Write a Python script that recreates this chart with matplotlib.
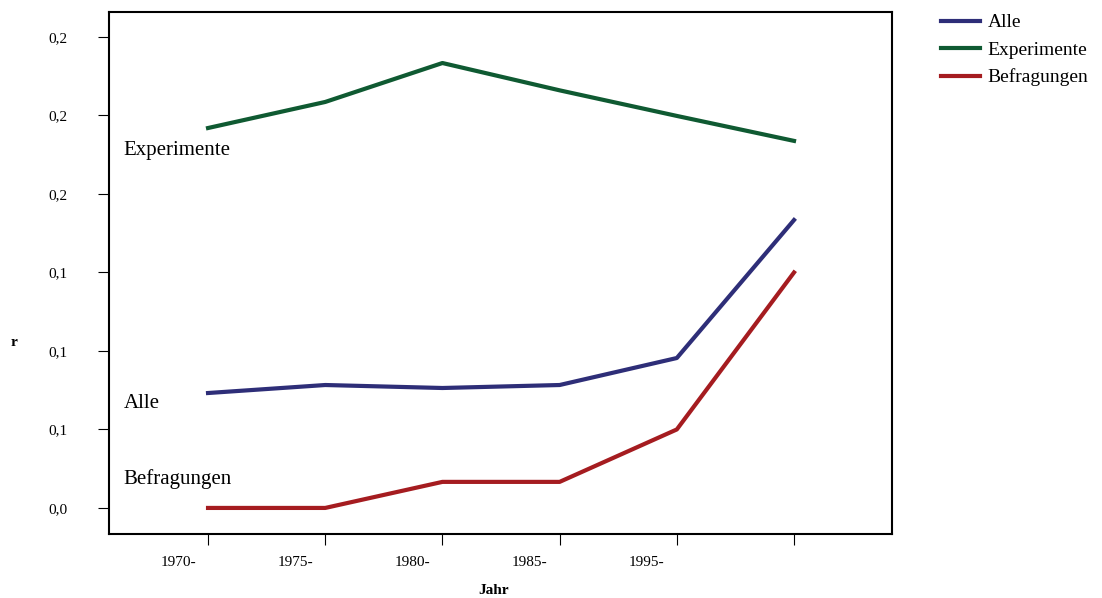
import matplotlib
matplotlib.use("Agg")
import matplotlib.pyplot as plt
from matplotlib.transforms import ScaledTranslation

plt.rcParams['font.family'] = ['Liberation Serif', 'DejaVu Serif']

jahre = ['1970-', '1975-', '1980-', '1985-', '1995-', '']
alle = [0.0732, 0.0783, 0.0764, 0.0783, 0.0955, 0.1834]
experimente = [0.242, 0.2586, 0.2834, 0.266, 0.2497, 0.2338]
befragungen = [0.0, 0.0, 0.0166, 0.0166, 0.05, 0.150]
yticks = [0.0, 0.05, 0.10, 0.15, 0.20, 0.25, 0.30]
ylabels = ['0,0', '0,1', '0,1', '0,1', '0,2', '0,2', '0,2']

fig = plt.figure(figsize=(11.02, 5.98), dpi=100)
ax = fig.add_axes([109/1102, 1-534/598, (892-109)/1102, (534-12)/598])
x = range(len(jahre))
ax.plot(x, alle, color='#2e2e78', lw=3, label='Alle')
ax.plot(x, experimente, color='#0f5a32', lw=3, label='Experimente')
ax.plot(x, befragungen, color='#a51c20', lw=3, label='Befragungen')

ax.set_xlim(-0.845, 5.836)
ax.set_ylim(-0.0166, 0.3159)
ax.set_xticks(list(x))
ax.set_xticklabels(jahre, fontsize=11)
ax.set_yticks(yticks)
ax.set_yticklabels(ylabels, fontsize=11)
ax.tick_params(axis='x', direction='out', length=8, pad=8)
ax.tick_params(axis='y', direction='out', length=8, pad=22)
for lab in ax.get_xticklabels():
    lab.set_transform(lab.get_transform() + ScaledTranslation(-0.3, 0, fig.dpi_scale_trans))
for s in ax.spines.values():
    s.set_linewidth(1.5)

ax.text(-0.72, 0.2245, 'Experimente', fontsize=15)
ax.text(-0.72, 0.0635, 'Alle', fontsize=15)
ax.text(-0.72, 0.015, 'Befragungen', fontsize=15)

fig.text(494/1102, 1-590/598, 'Jahr', fontsize=11, fontweight='bold', ha='center', va='center')
fig.text(14/1102, 1-343/598, 'r', fontsize=11, fontweight='bold', ha='center', va='center')

ax.legend(loc='upper left', bbox_to_anchor=(1.04, 1.03), frameon=False,
          fontsize=14, handlelength=2.0, labelspacing=0.5, handletextpad=0.4)
fig.savefig('out.png', dpi=100)
